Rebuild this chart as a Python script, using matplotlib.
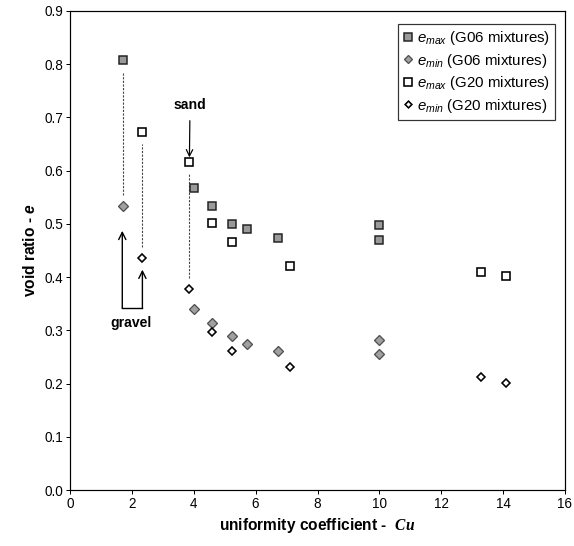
import matplotlib
matplotlib.use("Agg")
import matplotlib.pyplot as plt
import numpy as np

# ---- data ----
g06_cu = [1.72, 4.02, 4.58, 5.25, 5.71, 6.71, 9.98, 9.98]
g06_emax = [0.808, 0.567, 0.533, 0.499, 0.491, 0.474, 0.497, 0.469]
g06_emin = [0.534, 0.341, 0.314, 0.290, 0.274, 0.261, 0.281, 0.255]

g20_cu = [2.34, 3.86, 4.58, 5.24, 7.10, 13.3, 14.1]
g20_emax = [0.673, 0.617, 0.502, 0.466, 0.421, 0.410, 0.402]
g20_emin = [0.436, 0.378, 0.296, 0.261, 0.231, 0.213, 0.201]

x_ticks = [0, 2, 4, 6, 8, 10, 12, 14, 16]
y_ticks = [0.0, 0.1, 0.2, 0.3, 0.4, 0.5, 0.6, 0.7, 0.8, 0.9]

labels = [r'$\mathit{e}_{\mathit{max}}$ (G06 mixtures)',
          r'$\mathit{e}_{\mathit{min}}$ (G06 mixtures)',
          r'$\mathit{e}_{\mathit{max}}$ (G20 mixtures)',
          r'$\mathit{e}_{\mathit{min}}$ (G20 mixtures)']

plt.rcParams['font.family'] = ['Liberation Sans', 'DejaVu Sans']
plt.rcParams['mathtext.fontset'] = 'custom'
plt.rcParams['mathtext.rm'] = 'Liberation Sans'
plt.rcParams['mathtext.it'] = 'Liberation Sans:italic'
plt.rcParams['mathtext.bf'] = 'Liberation Sans:bold'
plt.rcParams['mathtext.bfit'] = 'Liberation Sans:italic:bold'
plt.rcParams['mathtext.sf'] = 'Liberation Serif:italic:bold'

DPI = 72
fig = plt.figure(figsize=(574 / DPI, 546 / DPI), dpi=DPI)
ax = fig.add_axes([70 / 574, 1 - 490 / 546, 495 / 574, 479 / 546])

# dashed connectors between paired emax / emin
gap_top, gap_bot = 0.022, 0.021
pairs_x = [g06_cu[0], g20_cu[0], g20_cu[1]]
pairs_top = [g06_emax[0], g20_emax[0], g20_emax[1]]
pairs_bot = [g06_emin[0], g20_emin[0], g20_emin[1]]
ax.vlines(pairs_x, np.array(pairs_bot) + gap_bot, np.array(pairs_top) - gap_top,
          colors='#444444', linestyles=(0, (2, 1.3)), linewidth=1.1, zorder=1)

h1, = ax.plot(g06_cu, g06_emax, 's', ms=8.5, mfc='#9a9a9a', mec='#222222', mew=1.5, zorder=3)
h2, = ax.plot(g06_cu, g06_emin, 'D', ms=7.2, mfc='#a0a0a0', mec='#505050', mew=1.3, zorder=3)
h3, = ax.plot(g20_cu, g20_emax, 's', ms=8.5, mfc='white', mec='black', mew=1.6, zorder=4)
h4, = ax.plot(g20_cu, g20_emin, 'D', ms=5.6, mfc='white', mec='black', mew=1.6, zorder=4)

ax.set_xlim(0, 16)
ax.set_ylim(0, 0.9)
ax.set_xticks(x_ticks)
ax.set_yticks(y_ticks)
ax.set_yticklabels([f'{v:.1f}' for v in y_ticks])
ax.tick_params(direction='out', length=4, width=1, labelsize=13.5, pad=3)
for s in ax.spines.values():
    s.set_linewidth(1.2)

ax.set_xlabel(r'uniformity coefficient -  $\mathsf{Cu}$', fontsize=15.5, fontweight='bold', labelpad=5)
ax.set_ylabel(r'void ratio - $\mathbfit{e}$', fontsize=15.5, fontweight='bold', labelpad=6)

# annotations
ax.annotate('sand', xy=(3.86, 0.625), xytext=(3.88, 0.724), ha='center', va='center',
            fontsize=14, fontweight='bold',
            arrowprops=dict(arrowstyle='->', color='black', lw=1.2, shrinkA=7, shrinkB=0,
                            mutation_scale=16))
ax.plot([1.69, 2.34], [0.3415, 0.3415], color='black', lw=1.4, solid_capstyle='projecting')
ax.annotate('', xy=(1.69, 0.487), xytext=(1.69, 0.3415),
            arrowprops=dict(arrowstyle='->', color='black', lw=1.4, shrinkA=0, shrinkB=0,
                            mutation_scale=18))
ax.annotate('', xy=(2.34, 0.414), xytext=(2.34, 0.3415),
            arrowprops=dict(arrowstyle='->', color='black', lw=1.4, shrinkA=0, shrinkB=0,
                            mutation_scale=18))
ax.text(1.96, 0.3145, 'gravel', ha='center', va='center', fontsize=14, fontweight='bold')

leg = ax.legend([h1, h2, h3, h4], labels, loc='upper right', bbox_to_anchor=(0.98, 0.973),
                borderaxespad=0, fontsize=15, frameon=True, fancybox=False,
                edgecolor='black', handlelength=0.6, handletextpad=0.3,
                labelspacing=0.3, borderpad=0.35, markerscale=0.85)
leg.get_frame().set_linewidth(1.2)

fig.savefig('out.png', dpi=DPI)
